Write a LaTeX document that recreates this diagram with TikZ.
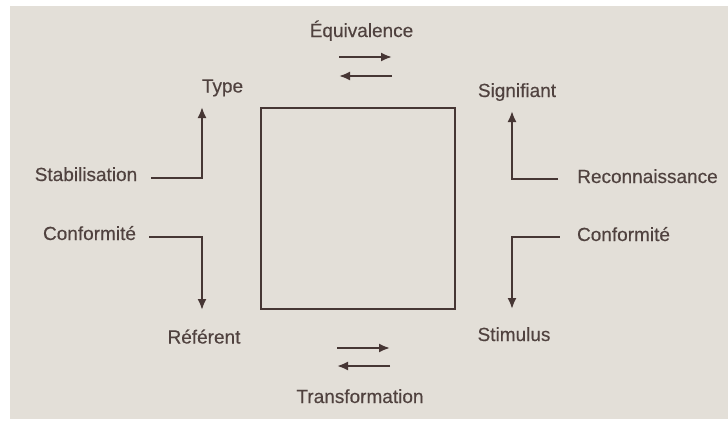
\documentclass[tikz,border=0pt]{standalone}
\usepackage{fontspec}
\setmainfont{Liberation Sans}[FakeBold=0.4]
\usetikzlibrary{arrows.meta,calc}
\definecolor{paper}{RGB}{227,223,216}
\definecolor{ink}{RGB}{70,54,52}
\definecolor{inktext}{RGB}{80,66,63}

\begin{document}
\begin{tikzpicture}[x=1pt,y=-1pt,
  lbl/.style={text=inktext,font=\fontsize{19}{22}\selectfont,text height=14pt,text depth=0pt,inner sep=0pt},
  flow/.style={draw=ink,line width=2pt,-{Latex[length=11pt,width=9pt]}}]
 \useasboundingbox (0,0) rectangle (728,423);
 \fill[white] (0,0) rectangle (728,423);
 \fill[paper] (10,6) rectangle (728,419);
 \node[draw=ink,line width=2pt,minimum width=194pt,minimum height=201pt,inner sep=0pt] (carre) at (358,208.5) {};
 \node[lbl] (type) at (222.5,85.5) {Type};
 \node[lbl] (signif) at (517,90) {Signifiant};
 \node[lbl] (referent) at (204,336.5) {Référent};
 \node[lbl] (stimulus) at (514,334) {Stimulus};
 \node[lbl] (stab) at (86,174) {Stabilisation};
 \node[lbl] (reco) at (647.5,176) {Reconnaissance};
 \node[lbl] (confl) at (89.5,233) {Conformité};
 \node[lbl] (confr) at (623.5,234) {Conformité};
 \node[lbl] (equiv) at (361.5,30) {Équivalence};
 \node[lbl] (transf) at (360,396) {Transformation};
 % coins des fleches
 \coordinate (cstab) at (202,178);
 \coordinate (creco) at (512,179);
 \coordinate (cconfl) at (202,237);
 \coordinate (cconfr) at (512,237);
 \draw[flow] (stab.east) ++(14,4) -- (cstab) -- (cstab |- carre.north);
 \draw[flow,shorten >=4pt] (reco.west) ++(-19,3) -- (creco) -- (creco |- carre.north);
 \draw[flow] (confl.east) ++(13,4) -- (cconfl) -- (cconfl |- carre.south);
 \draw[flow,shorten >=1pt] (confr.west) ++(-17,3) -- (cconfr) -- (cconfr |- carre.south);
 % paires de fleches
 \coordinate (eq1) at (339,57); \coordinate (eq2) at (392,57);
 \coordinate (eq3) at (392,76); \coordinate (eq4) at (339,76);
 \coordinate (tr1) at (337,348); \coordinate (tr2) at (390,348);
 \coordinate (tr3) at (390,366); \coordinate (tr4) at (337,366);
 \draw[flow] (eq1) -- (eq2);
 \draw[flow] (eq3) -- (eq4);
 \draw[flow] (tr1) -- (tr2);
 \draw[flow] (tr3) -- (tr4);
\end{tikzpicture}
\end{document}
